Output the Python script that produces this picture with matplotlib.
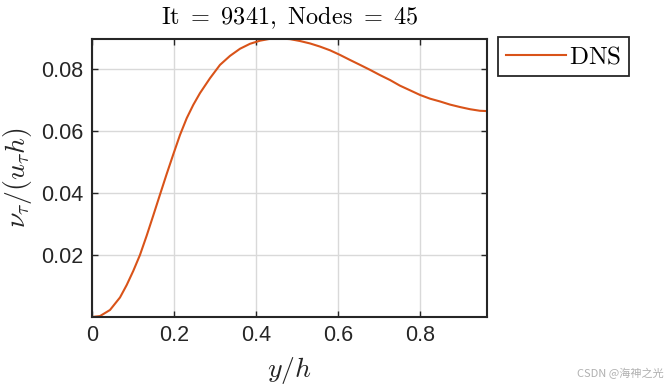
import matplotlib
matplotlib.use("Agg")
import matplotlib.pyplot as plt
import numpy as np

# DNS eddy viscosity profile
y_h = [0.0, 0.0195, 0.0439, 0.0683, 0.0846, 0.1008, 0.117, 0.1333, 0.1496, 0.1659,
       0.1821, 0.1984, 0.2146, 0.231, 0.247, 0.2634, 0.2878, 0.3122, 0.3366, 0.361,
       0.3854, 0.4098, 0.434, 0.4585, 0.483, 0.507, 0.532, 0.556, 0.5805, 0.605,
       0.629, 0.6537, 0.678, 0.7024, 0.727, 0.751, 0.7756, 0.80, 0.8244, 0.8488,
       0.873, 0.8976, 0.922, 0.946, 0.9634]
nu_t = [0.0, 0.0003, 0.00226, 0.0063, 0.0103, 0.0149, 0.0200, 0.0262, 0.0328, 0.0395,
        0.0461, 0.0525, 0.0587, 0.0641, 0.0684, 0.0722, 0.0770, 0.0813, 0.0842, 0.0865,
        0.0881, 0.0891, 0.0897, 0.0898, 0.0896, 0.0890, 0.0882, 0.0872, 0.0860, 0.0845,
        0.0829, 0.0813, 0.0797, 0.0780, 0.0764, 0.0746, 0.0731, 0.0716, 0.0704, 0.0695,
        0.0685, 0.0677, 0.0670, 0.0665, 0.0664]
xticks = [0, 0.2, 0.4, 0.6, 0.8]
xticklabels = ['0', '0.2', '0.4', '0.6', '0.8']
yticks = [0.02, 0.04, 0.06, 0.08]
yticklabels = ['0.02', '0.04', '0.06', '0.08']

plt.rcParams['mathtext.fontset'] = 'cm'
plt.rcParams['font.family'] = ['Liberation Sans', 'DejaVu Sans']
dark = '#262626'

fig = plt.figure(figsize=(6.7, 3.89), dpi=100)
ax = fig.add_axes([0.1373, 0.1851, 0.5896, 0.7159])

ax.plot(y_h, nu_t, color='#D95319', lw=1.5, label='DNS')
ax.set_xlim(0, 0.9634)
ax.set_ylim(0, 0.0898)
ax.set_xticks(xticks)
ax.set_xticklabels(xticklabels)
ax.set_yticks(yticks)
ax.set_yticklabels(yticklabels)
ax.grid(True, color='#d9d9d9', lw=1)
ax.tick_params(direction='in', top=True, right=True, labelsize=15.5,
               colors=dark, length=4, width=1, pad=6)
for s in ax.spines.values():
    s.set_color(dark)
    s.set_linewidth(1.5)

ax.set_xlabel(r'$y/h$', fontsize=20, color=dark, labelpad=6)
ax.set_ylabel(r'$\nu_\tau/(u_\tau h)$', fontsize=20, color=dark, labelpad=5)
ax.set_title(r'$\mathrm{It}\ =\ 9341,\ \mathrm{Nodes}\ =\ 45$', fontsize=17.5,
             color='black', pad=10)

leg = ax.legend(loc='upper left', bbox_to_anchor=(498 / 670, 1 - 37 / 389),
                bbox_transform=fig.transFigure, fancybox=False, framealpha=1,
                edgecolor=dark, prop={'size': 18},
                handlelength=2.4, handletextpad=0.15, borderpad=0.3,
                borderaxespad=0)
for t in leg.get_texts():
    t.set_text(r'$\mathrm{DNS}$')
leg.get_frame().set_linewidth(1.3)

fig.text(0.99, 0.025, 'CSDN @海神之光', ha='right', va='bottom', fontsize=8,
         color='#b0b0b0', family=['Noto Sans CJK SC', 'DejaVu Sans'])

fig.savefig('out.png', dpi=100)
